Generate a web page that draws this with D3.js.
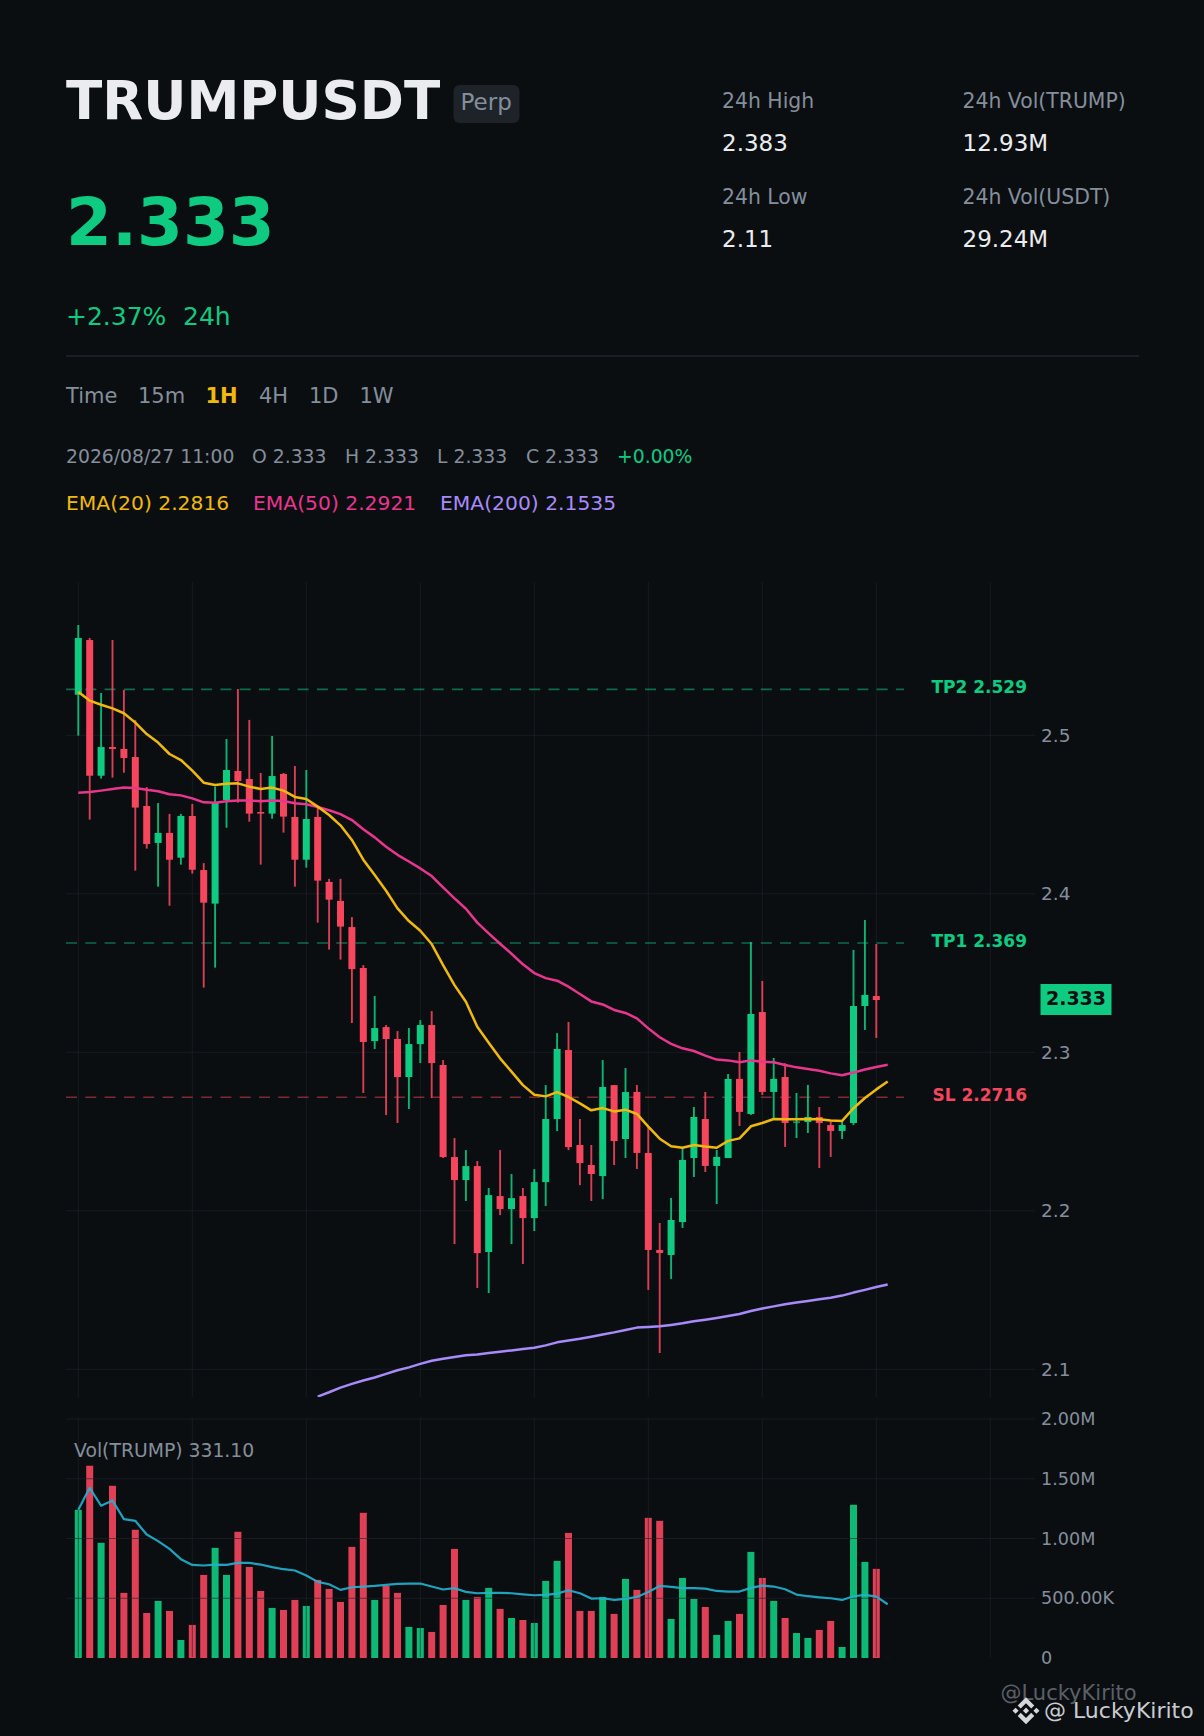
<!DOCTYPE html>
<html lang="en">
<head>
  <meta charset="UTF-8">
  <title>TRUMPUSDT Perp</title>
  <style>
html, body { margin: 0; padding: 0; background: #0b0e11; }
svg { display: block; }
text { font-family: "DejaVu Sans", sans-serif; }
  </style>
</head>
<body>
  <div id="chart"></div>
  <script src="https://d3js.org/d3.v7.min.js"></script>
  <script>
// values, one entry per hourly candle
const candleOpen = [2.5256,2.5601,2.4745,2.4926,2.4914,2.4863,2.4554,2.4321,2.4384,2.4228,2.4491,2.4150,2.3938,2.4592,2.4775,2.4724,2.4516,2.4506,2.4756,2.4485,2.4215,2.4485,2.4075,2.3955,2.3790,2.3532,2.3071,2.3159,2.3084,2.2844,2.3052,2.3172,2.2920,2.2339,2.2194,2.2282,2.1740,2.2093,2.2011,2.2093,2.1954,2.2181,2.2579,2.3014,2.2415,2.2289,2.2219,2.2793,2.2453,2.2750,2.2365,2.1753,2.1721,2.1929,2.2333,2.2579,2.2283,2.2333,2.2832,2.2611,2.3254,2.2750,2.2844,2.2556,2.2560,2.2592,2.2541,2.2504,2.2554,2.3292,2.3355,2.333];
const candleHigh = [2.5696,2.5614,2.5267,2.5601,2.5286,2.5097,2.4674,2.4573,2.4504,2.4504,2.4567,2.4194,2.4676,2.4977,2.5292,2.5097,2.4762,2.4996,2.4762,2.4806,2.4781,2.4550,2.4094,2.4094,2.3853,2.3550,2.3355,2.3172,2.3134,2.3153,2.3203,2.3260,2.2951,2.2459,2.2383,2.2314,2.2144,2.2383,2.2232,2.2144,2.2263,2.2793,2.3121,2.3191,2.2579,2.2415,2.2951,2.2793,2.2901,2.2794,2.2531,2.1923,2.2081,2.2405,2.2655,2.2750,2.2384,2.2863,2.3002,2.3696,2.3450,2.2964,2.2931,2.2743,2.2794,2.2655,2.2563,2.2573,2.3646,2.3835,2.3683,2.333];
const candleLow = [2.4998,2.4468,2.4727,2.4733,2.4764,2.4146,2.4285,2.4045,2.3925,2.4184,2.4127,2.3408,2.3534,2.4417,2.4575,2.4455,2.4184,2.4474,2.4386,2.4045,2.4165,2.3818,2.3648,2.3585,2.3185,2.2743,2.3021,2.2604,2.2554,2.2642,2.2932,2.2711,2.2333,2.1790,2.2062,2.1513,2.1481,2.1973,2.1790,2.1664,2.1872,2.2030,2.2503,2.2383,2.2162,2.2062,2.2074,2.2289,2.2333,2.2264,2.1501,2.1103,2.1570,2.1892,2.2213,2.2245,2.2043,2.2333,2.2535,2.2605,2.2731,2.2573,2.2403,2.2459,2.2491,2.2270,2.2340,2.2453,2.2541,2.3141,2.3090,2.333];
const candleClose = [2.5614,2.4745,2.4926,2.4914,2.4857,2.4544,2.4314,2.4384,2.4215,2.4491,2.4152,2.3944,2.4575,2.4781,2.4712,2.4506,2.4506,2.4743,2.4487,2.4215,2.4472,2.4083,2.3963,2.3793,2.3525,2.3065,2.3153,2.3084,2.2844,2.3052,2.3172,2.2932,2.2339,2.2194,2.2282,2.1733,2.2099,2.2011,2.2080,2.1954,2.2181,2.2579,2.3021,2.2402,2.2301,2.2232,2.2781,2.2440,2.2749,2.2365,2.1753,2.1734,2.1942,2.2321,2.2592,2.2283,2.2340,2.2832,2.2624,2.3242,2.2750,2.2832,2.2554,2.2563,2.2592,2.2554,2.2504,2.2541,2.3292,2.3362,2.3330,2.333];

const ema20 = [2.5273,2.5219,2.5193,2.5170,2.5139,2.5080,2.5008,2.4954,2.4882,2.4844,2.4777,2.4701,2.4687,2.4695,2.4697,2.4676,2.4661,2.4670,2.4651,2.4611,2.4598,2.4550,2.4497,2.4432,2.4340,2.4215,2.4118,2.4019,2.3908,2.3828,2.3767,2.3683,2.3550,2.3424,2.3319,2.3161,2.3060,2.2962,2.2878,2.2793,2.2732,2.2722,2.2749,2.2718,2.2678,2.2634,2.2648,2.2627,2.2638,2.2611,2.2531,2.2455,2.2407,2.2398,2.2415,2.2405,2.2398,2.2441,2.2457,2.2533,2.2554,2.2579,2.2577,2.2577,2.2579,2.2577,2.2569,2.2567,2.2647,2.2712,2.2766,2.2816];
const ema50 = [2.4638,2.4642,2.4651,2.4661,2.4670,2.4668,2.4657,2.4647,2.4628,2.4621,2.4602,2.4577,2.4575,2.4584,2.4588,2.4588,2.4584,2.4588,2.4586,2.4571,2.4565,2.4548,2.4527,2.4503,2.4465,2.4407,2.4356,2.4297,2.4246,2.4204,2.4160,2.4112,2.4040,2.3971,2.3906,2.3818,2.3750,2.3685,2.3622,2.3555,2.3500,2.3468,2.3452,2.3414,2.3368,2.3321,2.3302,2.3267,2.3248,2.3214,2.3151,2.3095,2.3053,2.3025,2.3008,2.2979,2.2954,2.2949,2.2937,2.2949,2.2941,2.2937,2.2920,2.2905,2.2895,2.2884,2.2867,2.2855,2.2872,2.2891,2.2907,2.2921];
// the first 21 values of EMA(200) sit below the visible price range
const ema200 = [null,null,null,null,null,null,null,null,null,null,null,null,null,null,null,null,null,null,null,null,null,2.0828,2.0855,2.0884,2.0908,2.0929,2.0948,2.0971,2.0994,2.1012,2.1034,2.1054,2.1067,2.1077,2.1088,2.1094,2.1103,2.1111,2.1119,2.1128,2.1136,2.1151,2.1170,2.1182,2.1193,2.1206,2.1220,2.1233,2.1248,2.1263,2.1267,2.1271,2.1280,2.1290,2.1303,2.1313,2.1324,2.1336,2.1349,2.1368,2.1383,2.1397,2.1410,2.1421,2.1431,2.1442,2.1452,2.1465,2.1484,2.1501,2.1519,2.1535];

// volume in millions
const volume = [1.240,1.609,0.964,1.441,0.545,1.073,0.377,0.478,0.394,0.151,0.277,0.695,0.922,0.695,1.056,0.762,0.561,0.419,0.402,0.486,0.436,0.654,0.578,0.469,0.930,1.215,0.486,0.603,0.545,0.260,0.251,0.218,0.444,0.913,0.486,0.511,0.587,0.411,0.335,0.318,0.293,0.645,0.813,1.047,0.394,0.394,0.511,0.369,0.662,0.570,1.173,1.148,0.327,0.670,0.494,0.427,0.193,0.310,0.369,0.888,0.670,0.478,0.335,0.209,0.168,0.235,0.310,0.092,1.282,0.804,0.746,0.00033110];
const volumeMa = [1.240,1.424,1.274,1.318,1.162,1.148,1.033,0.978,0.913,0.827,0.779,0.774,0.782,0.779,0.796,0.796,0.782,0.760,0.743,0.732,0.690,0.637,0.617,0.570,0.592,0.598,0.603,0.612,0.620,0.623,0.623,0.598,0.573,0.584,0.553,0.542,0.545,0.545,0.542,0.533,0.525,0.528,0.539,0.567,0.542,0.497,0.500,0.486,0.494,0.511,0.553,0.603,0.595,0.584,0.584,0.581,0.561,0.556,0.556,0.587,0.606,0.598,0.575,0.531,0.517,0.508,0.500,0.486,0.517,0.528,0.514,0.450];

const priceTicks = [2.1, 2.2, 2.3, 2.4, 2.5];
const volumeTicks = [0, 0.5, 1, 1.5, 2];
const volumeTickLabels = ["0", "500.00K", "1.00M", "1.50M", "2.00M"];
const gridIndexes = [0, 10, 20, 30, 40, 50, 60, 70, 80];

const levelNames = ["TP2", "TP1", "SL"];
const levelValues = [2.529, 2.369, 2.2716];
const lastPrice = 2.333;

const statLabels = ["24h High", "24h Low", "24h Vol(TRUMP)", "24h Vol(USDT)"];
const statValues = ["2.383", "2.11", "12.93M", "29.24M"];
const intervals = ["Time", "15m", "1H", "4H", "1D", "1W"];
const ohlcTexts = ["2026/08/27 11:00", "O 2.333", "H 2.333", "L 2.333", "C 2.333"];
const emaLabels = ["EMA(20) 2.2816", "EMA(50) 2.2921", "EMA(200) 2.1535"];

const GREEN = "#0ecb81", RED = "#f6465d", YELLOW = "#f0b90b", PINK = "#e8368f", PURPLE = "#a78bfa";
const MUTED = "#848e9c", CYAN = "#22b3d1";
const GRID = "rgba(30,35,41,0.62)";

const svg = d3.select("#chart").append("svg").attr("width", 1204).attr("height", 1736);
svg.append("rect").attr("width", 1204).attr("height", 1736).attr("fill", "#0b0e11");

function label(x, y, str, size, fill, weight, anchor) {
  return svg.append("text").attr("x", x).attr("y", y)
    .attr("font-size", size).attr("fill", fill)
    .attr("font-weight", weight || "normal")
    .attr("text-anchor", anchor || "start")
    .text(str);
}

// header
label(66, 119, "TRUMPUSDT", 53.2, "#eaecef", "bold");
svg.append("rect").attr("x", 453.5).attr("y", 85).attr("width", 66).attr("height", 38).attr("rx", 6).attr("fill", "#1e2329");
label(460.5, 110, "Perp", 23, MUTED);
label(66, 245, "2.333", 66, GREEN, "bold");
label(66, 325, "+2.37%", 25, GREEN);
label(183, 325, "24h", 25, GREEN);

const statX = [722, 722, 962.5, 962.5];
const statLabelY = [108, 204, 108, 204];
const statValueY = [151, 247, 151, 247];
statLabels.forEach((s, i) => {
  label(statX[i], statLabelY[i], s, 20.4, MUTED);
  label(statX[i], statValueY[i], statValues[i], 23, "#eaecef");
});

svg.append("line").attr("x1", 66).attr("x2", 1139).attr("y1", 356).attr("y2", 356)
  .attr("stroke", "#1e2633").attr("stroke-width", 1.5);

const intervalX = [66, 138, 205.5, 259, 309, 359.5];
intervals.forEach((s, i) => {
  label(intervalX[i], 403, s, 21, s === "1H" ? YELLOW : MUTED, s === "1H" ? "bold" : "normal");
});

const ohlcX = [66, 252, 345, 437, 526];
ohlcTexts.forEach((s, i) => label(ohlcX[i], 463, s, 18.8, MUTED));
label(617, 463, "+0.00%", 18.8, GREEN);

const emaX = [66, 253, 440];
const emaColors = [YELLOW, PINK, PURPLE];
emaLabels.forEach((s, i) => label(emaX[i], 510, s, 20.3, emaColors[i]));

// scales
const x = d3.scaleLinear().domain([0, 80]).range([78.3, 990.3]);
const y = d3.scaleLinear().domain([2.5, 2.1]).range([735.3, 1369.3]);
const yVol = d3.scaleLinear().domain([0, 2]).range([1658, 1419]);

const plotLeft = 66, plotRight = 1035, plotTop = 582, plotBottom = 1397;

svg.append("clipPath").attr("id", "plot-clip").append("rect")
  .attr("x", plotLeft).attr("y", plotTop)
  .attr("width", plotRight - plotLeft).attr("height", plotBottom - plotTop);

// price grid
const priceGrid = svg.append("g");
priceGrid.selectAll("line.h").data(priceTicks).join("line").attr("class", "h")
  .attr("x1", plotLeft).attr("x2", plotRight)
  .attr("y1", d => y(d)).attr("y2", d => y(d));
priceGrid.selectAll("line.v").data(gridIndexes).join("line").attr("class", "v")
  .attr("x1", d => x(d)).attr("x2", d => x(d))
  .attr("y1", plotTop).attr("y2", plotBottom);
priceGrid.selectAll("line").attr("stroke", GRID).attr("stroke-width", 1);

// TP / SL levels
const levelColor = d => levelNames[levelValues.indexOf(d)] === "SL" ? RED : GREEN;
svg.append("g").selectAll("line").data(levelValues).join("line")
  .attr("x1", plotLeft).attr("x2", 904)
  .attr("y1", d => y(d)).attr("y2", d => y(d))
  .attr("stroke", levelColor).attr("stroke-opacity", 0.5)
  .attr("stroke-width", 1.6).attr("stroke-dasharray", "11 8.3");
svg.append("g").selectAll("text").data(levelValues).join("text")
  .attr("x", 1027).attr("y", d => y(d) + 4)
  .attr("text-anchor", "end").attr("font-size", 17).attr("font-weight", "bold")
  .attr("fill", levelColor)
  .text((d, i) => `${levelNames[i]} ${d}`);

// candles
const candleIdx = d3.range(candleOpen.length);
const candleColor = i => candleClose[i] >= candleOpen[i] ? GREEN : RED;
const candles = svg.append("g").attr("clip-path", "url(#plot-clip)");
candles.selectAll("line").data(candleIdx).join("line")
  .attr("x1", i => x(i)).attr("x2", i => x(i))
  .attr("y1", i => y(candleHigh[i])).attr("y2", i => y(candleLow[i]))
  .attr("stroke", candleColor).attr("stroke-width", 1.9).attr("stroke-opacity", 0.88);
candles.selectAll("rect").data(candleIdx).join("rect")
  .attr("x", i => x(i) - 3.5).attr("width", 7)
  .attr("y", i => y(Math.max(candleOpen[i], candleClose[i])))
  .attr("height", i => Math.abs(y(candleOpen[i]) - y(candleClose[i])))
  .attr("fill", candleColor);

// EMA lines
const emaLine = d3.line()
  .defined(d => d !== null)
  .x((d, i) => x(i))
  .y(d => y(d));
[ema200, ema50, ema20].forEach((series, i) => {
  svg.append("path").datum(series)
    .attr("clip-path", "url(#plot-clip)")
    .attr("fill", "none")
    .attr("stroke", [PURPLE, PINK, YELLOW][i])
    .attr("stroke-width", 2.5)
    .attr("stroke-linejoin", "round")
    .attr("d", emaLine);
});

// price axis labels
const priceAxis = d3.axisRight(y).tickValues(priceTicks).tickSize(0).tickPadding(6).tickFormat(d3.format(".1f"));
const priceAxisG = svg.append("g").attr("transform", `translate(${plotRight},0)`).call(priceAxis);
priceAxisG.select(".domain").remove();
priceAxisG.selectAll("text").attr("font-size", 18.5).attr("fill", MUTED).attr("font-family", "DejaVu Sans");

// last price tag
svg.append("rect").attr("x", 1040.5).attr("y", y(lastPrice) - 16).attr("width", 71).attr("height", 31).attr("fill", GREEN);
label(1076, y(lastPrice) + 5, String(lastPrice), 19, "#0b0e11", "bold", "middle");

// volume bars
svg.append("g").selectAll("rect").data(volume).join("rect")
  .attr("x", (d, i) => x(i) - 3.5).attr("width", 7)
  .attr("y", d => yVol(d))
  .attr("height", d => yVol(0) - yVol(d))
  .attr("fill", (d, i) => candleColor(i))
  .attr("fill-opacity", 0.9);

// volume grid is painted over the bars
const volGrid = svg.append("g");
volGrid.selectAll("line.h").data(volumeTicks.slice(1)).join("line").attr("class", "h")
  .attr("x1", plotLeft).attr("x2", plotRight)
  .attr("y1", d => yVol(d)).attr("y2", d => yVol(d));
volGrid.selectAll("line.v").data(gridIndexes).join("line").attr("class", "v")
  .attr("x1", d => x(d)).attr("x2", d => x(d))
  .attr("y1", 1418).attr("y2", 1657);
volGrid.selectAll("line").attr("stroke", GRID).attr("stroke-width", 1);

// volume MA
const volLine = d3.line().x((d, i) => x(i)).y(d => yVol(d));
svg.append("path").datum(volumeMa)
  .attr("fill", "none").attr("stroke", CYAN).attr("stroke-width", 2.2).attr("stroke-opacity", 0.9)
  .attr("stroke-linejoin", "round")
  .attr("d", volLine);

const volAxis = d3.axisRight(yVol).tickValues(volumeTicks).tickSize(0).tickPadding(6)
  .tickFormat((d, i) => volumeTickLabels[i]);
const volAxisG = svg.append("g").attr("transform", `translate(${plotRight},0)`).call(volAxis);
volAxisG.select(".domain").remove();
volAxisG.selectAll("text").attr("font-size", 17.6).attr("fill", MUTED).attr("font-family", "DejaVu Sans");

label(74, 1457, "Vol(TRUMP) 331.10", 18.8, MUTED);

// watermarks
label(1000.5, 1700, "@LuckyKirito", 21, "#5b6068");
label(1044, 1718, "@ LuckyKirito", 22, "#c9ccd1");
svg.append("path")
  .attr("transform", "translate(1012.5,1697.2) scale(0.213)")
  .attr("fill", "#d5d7da")
  .attr("d", "M38.73 53.2L63.3 28.63l24.59 24.58 14.3-14.3L63.3 0 24.43 38.9zM0 63.31l14.3-14.3 14.3 14.3-14.3 14.3zM38.73 73.41L63.3 97.98l24.59-24.57 14.31 14.29-38.9 38.91-38.88-38.9zM98.01 63.31l14.3-14.3 14.3 14.3-14.3 14.3zM77.83 63.3L63.3 48.76 52.55 59.51l-1.24 1.23-2.54 2.56 14.53 14.54 14.53-14.54z");
  </script>
</body>
</html>
